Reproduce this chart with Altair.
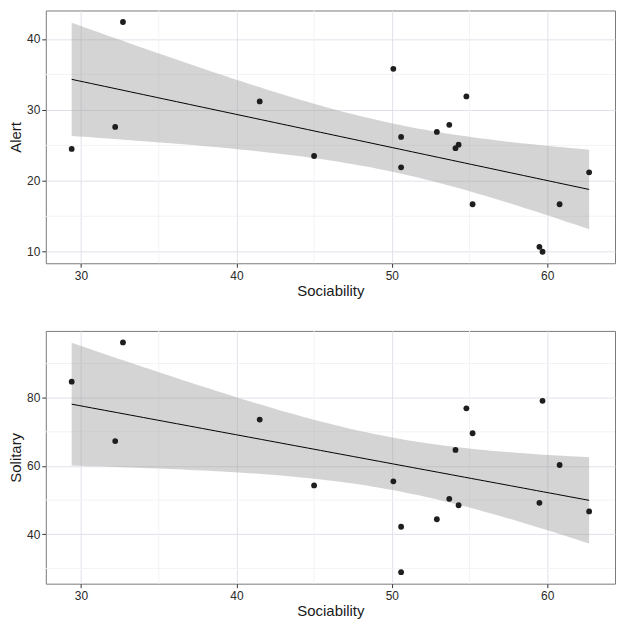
import altair as alt
import numpy as np
import pandas as pd

# Data
sociability = [29.4, 32.7, 32.2, 41.5, 45.0, 50.1, 54.8, 53.7, 52.9, 50.6,
               54.3, 54.1, 50.6, 55.2, 60.8, 62.7, 59.5, 59.7]
alert = [24.5, 42.4, 27.6, 31.2, 23.5, 35.8, 31.9, 27.9, 26.9, 26.2,
         25.1, 24.6, 21.9, 16.7, 16.7, 21.2, 10.7, 10.0]
solitary = [84.7, 96.2, 67.3, 73.6, 54.3, 55.5, 76.9, 50.4, 44.4, 42.2,
            48.5, 64.7, 28.9, 69.6, 60.3, 46.7, 49.2, 79.1]

x_major = [30, 40, 50, 60]
x_minor = [35, 45, 55]
alert_major = [10, 20, 30, 40]
alert_minor = [15, 25, 35]
solitary_major = [40, 60, 80]
solitary_minor = [30, 50, 70, 90]

T_975_DF16 = 2.1199  # t quantile for 95% CI with n-2 = 16 df


def expand(v):
    lo, hi = min(v), max(v)
    d = (hi - lo) * 0.05
    return [lo - d, hi + d]


def smooth_table(x, y, n=80):
    x = np.asarray(x, float)
    y = np.asarray(y, float)
    b, a = np.polyfit(x, y, 1)
    resid = y - (a + b * x)
    s = np.sqrt(np.sum(resid ** 2) / (len(x) - 2))
    xm = x.mean()
    sxx = np.sum((x - xm) ** 2)
    xs = np.linspace(x.min(), x.max(), n)
    fit = a + b * xs
    se = s * np.sqrt(1.0 / len(x) + (xs - xm) ** 2 / sxx)
    return pd.DataFrame({"x": xs, "fit": fit,
                         "lo": fit - T_975_DF16 * se,
                         "hi": fit + T_975_DF16 * se})


def panel(yvals, ytitle, ymajor, yminor):
    pts = pd.DataFrame({"x": sociability, "y": yvals})
    sm = smooth_table(sociability, yvals)
    xs = alt.Scale(domain=expand(sociability), nice=False, zero=False)
    ys = alt.Scale(domain=expand(yvals), nice=False, zero=False)

    common = dict(grid=True, gridColor="#E1E1EA", domain=False,
                  tickColor="#333333", tickSize=4, labelFontSize=12,
                  labelColor="#2B2B2B", titleFontSize=15,
                  titleFontWeight="normal", titleColor="#1A1A1A",
                  labelFont="Liberation Sans", titleFont="Liberation Sans")
    xaxis = alt.Axis(values=x_major, title="Sociability", labelPadding=3,
                     titlePadding=2, **common)
    yaxis = alt.Axis(values=ymajor, title=ytitle, labelPadding=2,
                     titlePadding=3, **common)

    minor_x = alt.Chart(pd.DataFrame({"v": x_minor})).mark_rule(
        color="#F3F3F6", strokeWidth=1).encode(x=alt.X("v:Q", scale=xs, axis=xaxis))
    minor_y = alt.Chart(pd.DataFrame({"v": yminor})).mark_rule(
        color="#F3F3F6", strokeWidth=1).encode(y=alt.Y("v:Q", scale=ys, axis=yaxis))

    band = alt.Chart(sm).mark_area(color="#999999", opacity=0.42).encode(
        x=alt.X("x:Q", scale=xs, axis=xaxis),
        y=alt.Y("lo:Q", scale=ys, axis=yaxis),
        y2="hi:Q")
    line = alt.Chart(sm).mark_line(color="#000000", strokeWidth=1).encode(
        x=alt.X("x:Q", scale=xs, axis=xaxis),
        y=alt.Y("fit:Q", scale=ys, axis=yaxis))
    dots = alt.Chart(pts).mark_circle(color="#1E1E1E", opacity=1, size=34).encode(
        x=alt.X("x:Q", scale=xs, axis=xaxis),
        y=alt.Y("y:Q", scale=ys, axis=yaxis))

    return alt.layer(minor_x, minor_y, band, line, dots).properties(
        width=572, height=254)


top = panel(alert, "Alert", alert_major, alert_minor)
bottom = panel(solitary, "Solitary", solitary_major, solitary_minor)

chart = alt.vconcat(top, bottom, spacing=31).properties(
    padding=0, background="white"
).configure_view(stroke="#7A7A7A", strokeWidth=1)

chart.save("out.html", embed_options={"renderer": "svg", "actions": False})
